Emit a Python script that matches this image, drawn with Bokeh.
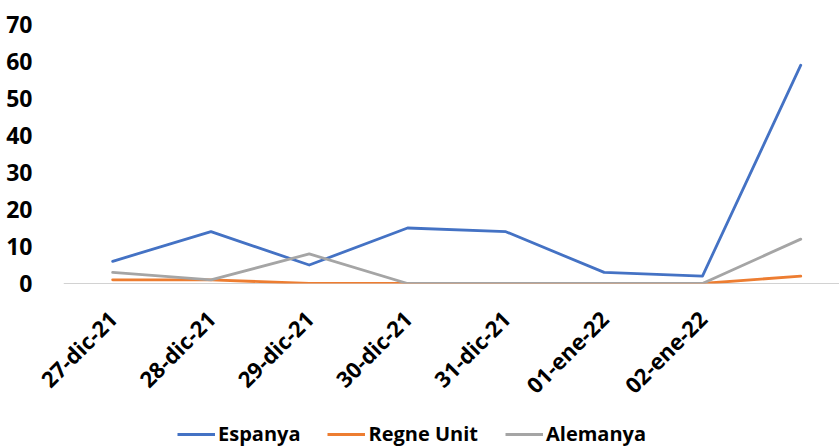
import math
from bokeh.plotting import figure
from bokeh.layouts import column
from bokeh.models import Range1d, FixedTicker, Legend, LegendItem, Span, ColumnDataSource
from bokeh.embed import file_html
from bokeh.resources import INLINE

dates = ["27-dic-21", "28-dic-21", "29-dic-21", "30-dic-21", "31-dic-21",
         "01-ene-22", "02-ene-22", "03-ene-22"]
tick_labels = ["27-dic-21", "28-dic-21", "29-dic-21", "30-dic-21", "31-dic-21",
               "01-ene-22", "02-ene-22", ""]
espanya = [6, 14, 5, 15, 14, 3, 2, 59]
regne_unit = [1, 1, 0, 0, 0, 0, 0, 2]
alemanya = [3, 1, 8, 0, 0, 0, 0, 12]
y_ticks = [0, 10, 20, 30, 40, 50, 60, 70]
series_names = ["Espanya", "Regne Unit", "Alemanya"]
series_cols = ["esp", "ru", "ale"]
colors = ["#4472C4", "#ED7D31", "#A5A5A5"]

xs = list(range(len(dates)))
src = ColumnDataSource(dict(x=xs, date=dates, esp=espanya, ru=regne_unit, ale=alemanya))

FONT = "Open Sans"
LW = 2.8

p = figure(width=839, height=412, output_backend="svg", toolbar_location=None,
           x_range=Range1d(-0.5, 7.394), y_range=Range1d(0, 70),
           min_border_top=24, min_border_left=63, min_border_right=0,
           min_border_bottom=129)
p.outline_line_color = None
p.xgrid.visible = False
p.ygrid.visible = False

p.add_layout(Span(location=0, dimension="width", line_color="#A6A6A6", line_width=1, level="underlay"))

for col, c in zip(series_cols, colors):
    p.line("x", col, source=src, line_color=c, line_width=LW, line_join="round", line_cap="round")

p.yaxis.ticker = FixedTicker(ticks=y_ticks)
p.yaxis.axis_line_color = None
p.yaxis.major_tick_line_color = None
p.yaxis.minor_tick_line_color = None
p.yaxis.major_label_text_font = FONT
p.yaxis.major_label_text_font_style = "bold"
p.yaxis.major_label_text_font_size = "23px"
p.yaxis.major_label_text_color = "black"
p.yaxis.major_label_standoff = 25

p.xaxis.ticker = FixedTicker(ticks=xs)
p.xaxis.major_label_overrides = {i: t for i, t in zip(xs, tick_labels)}
p.xaxis.major_label_orientation = math.pi / 4
p.xaxis.axis_line_color = None
p.xaxis.major_tick_line_color = None
p.xaxis.minor_tick_line_color = None
p.xaxis.major_label_text_font = FONT
p.xaxis.major_label_text_font_style = "bold"
p.xaxis.major_label_text_font_size = "22px"
p.xaxis.major_label_text_color = "black"
p.xaxis.major_label_standoff = 25

# legend strip (its series lines fall outside its own y range; only the legend shows)
lg = figure(width=839, height=35, output_backend="svg", toolbar_location=None,
            x_range=Range1d(-0.5, 7.394), y_range=Range1d(1000, 1001),
            x_axis_location=None, y_axis_location=None,
            min_border=0, min_border_left=63, min_border_right=0)
lg.outline_line_color = None
lg.grid.visible = False
items = []
for name, col, c in zip(series_names, series_cols, colors):
    r = lg.line("x", col, source=src, line_color=c, line_width=LW)
    items.append(LegendItem(label=name, renderers=[r]))
legend = Legend(items=items, orientation="horizontal", location=(114, 0),
                label_text_font=FONT, label_text_font_style="bold",
                label_text_font_size="20px", label_text_color="black",
                glyph_width=38, label_standoff=3, spacing=27,
                border_line_color=None, background_fill_alpha=0,
                padding=0, margin=0)
lg.add_layout(legend, "center")

layout = column(p, lg, spacing=0)
open("out.html", "w").write(file_html(layout, INLINE))
